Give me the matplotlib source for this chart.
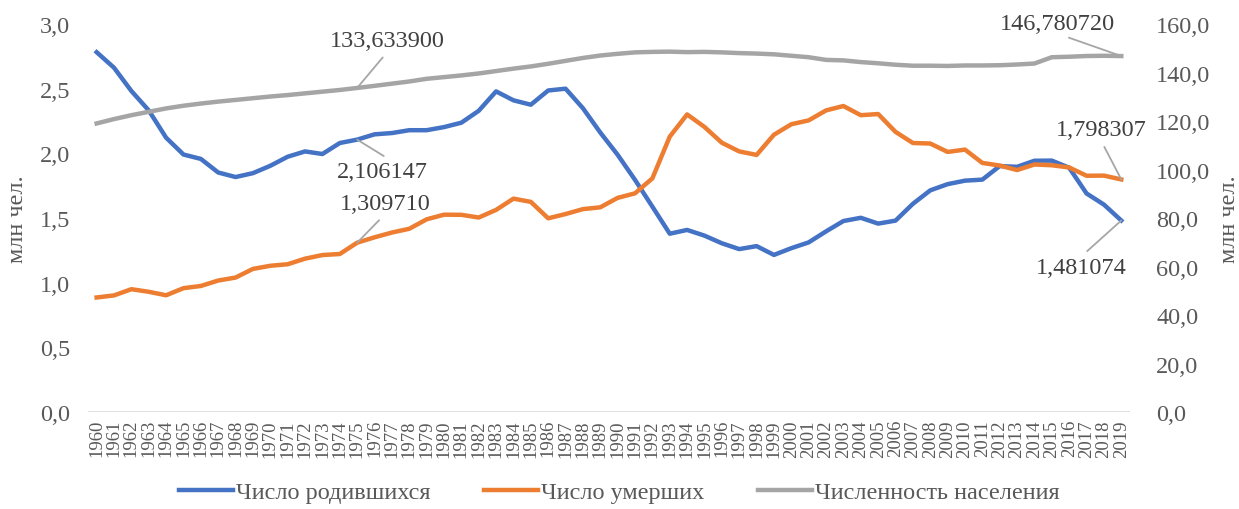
import matplotlib
matplotlib.use("Agg")
import matplotlib.pyplot as plt
from matplotlib.ticker import FuncFormatter, MultipleLocator

years = list(range(1960, 2020))

# число родившихся, млн чел.
births = [2.782, 2.662, 2.482, 2.332, 2.121, 1.991, 1.957, 1.852, 1.817, 1.847,
          1.904, 1.974, 2.015, 1.995, 2.080, 2.106147, 2.147, 2.157, 2.179, 2.179,
          2.203, 2.237, 2.329, 2.479, 2.410, 2.376, 2.486, 2.500, 2.349, 2.161,
          1.989, 1.795, 1.588, 1.379, 1.408, 1.364, 1.305, 1.260, 1.283, 1.215,
          1.267, 1.312, 1.397, 1.477, 1.502, 1.457, 1.480, 1.610, 1.714, 1.762,
          1.789, 1.797, 1.902, 1.896, 1.943, 1.944, 1.889, 1.690, 1.604, 1.481074]

# число умерших, млн чел.
deaths = [0.886, 0.902, 0.950, 0.930, 0.903, 0.958, 0.975, 1.017, 1.040, 1.107,
          1.131, 1.143, 1.186, 1.214, 1.222, 1.309710, 1.351, 1.388, 1.417, 1.490,
          1.526, 1.525, 1.504, 1.563, 1.650, 1.625, 1.498, 1.531, 1.569, 1.583,
          1.656, 1.691, 1.807, 2.129, 2.301, 2.204, 2.082, 2.015, 1.988, 2.144,
          2.225, 2.255, 2.332, 2.366, 2.295, 2.304, 2.166, 2.080, 2.076, 2.011,
          2.029, 1.926, 1.906, 1.871, 1.914, 1.908, 1.891, 1.827, 1.828, 1.798307]

# численность населения, млн чел.
population = [119.0, 120.8, 122.4, 123.8, 125.2, 126.3, 127.2, 128.0, 128.7, 129.4,
              130.1, 130.7, 131.4, 132.1, 132.8, 133.633900, 134.5, 135.4, 136.3, 137.4,
              138.1, 138.8, 139.6, 140.6, 141.6, 142.5, 143.6, 144.8, 146.0, 147.0,
              147.7, 148.3, 148.5, 148.6, 148.4, 148.5, 148.3, 148.0, 147.8, 147.5,
              146.9, 146.3, 145.2, 145.0, 144.3, 143.8, 143.2, 142.8, 142.8, 142.7,
              142.9, 142.9, 143.0, 143.3, 143.7, 146.3, 146.5, 146.8, 146.9, 146.780720]

labels = ["Число родившихся", "Число умерших", "Численность населения"]
colors = ["#4472C4", "#ED7D31", "#A5A5A5"]

plt.rcParams["font.family"] = ["Liberation Serif", "DejaVu Serif"]
txt_color = "#595959"

fig = plt.figure(figsize=(12.39, 5.10), dpi=100)
ax = fig.add_axes([0.071, 0.190, 0.841, 0.761])
ax2 = ax.twinx()

x = list(range(len(years)))
l1, = ax.plot(x, births, color=colors[0], lw=3.2, solid_joinstyle="round")
l2, = ax.plot(x, deaths, color=colors[1], lw=3.2, solid_joinstyle="round")
l3, = ax2.plot(x, population, color=colors[2], lw=3.2, solid_joinstyle="round")

ax.set_xlim(-0.5, len(years) - 0.5)
ax.set_ylim(0, 3.0)
ax2.set_ylim(0, 160)
ax.yaxis.set_major_locator(MultipleLocator(0.5))
ax2.yaxis.set_major_locator(MultipleLocator(20))
comma = FuncFormatter(lambda v, p: f"{v:.1f}".replace(".", ","))
ax.yaxis.set_major_formatter(comma)
ax2.yaxis.set_major_formatter(comma)

ax.set_xticks(x)
ax.set_xticklabels([str(y) for y in years], rotation=90, color=txt_color)

for a in (ax, ax2):
    for s in a.spines.values():
        s.set_visible(False)
    a.tick_params(length=0, labelsize=17.5, labelcolor=txt_color)
ax.tick_params(axis="x", pad=5, labelsize=13.5)
ax.tick_params(axis="y", pad=13)
ax2.tick_params(axis="y", pad=19)
ax.axhline(0, color="#D9D9D9", lw=1.2, zorder=0)

ax.set_ylabel("млн чел.", fontsize=17.5, color=txt_color, labelpad=8)
ax2.set_ylabel("млн чел.", fontsize=17.5, color=txt_color, labelpad=6)

# подписи значений с выносками
lead = dict(arrowstyle="-", color="#A6A6A6", lw=1.3, shrinkA=3, shrinkB=0)
fs = 17.5
i75 = years.index(1975)
i19 = years.index(2019)
ax2.annotate(f"{population[i75]:.6f}".replace(".", ","), xy=(i75, population[i75]),
             xytext=(16.76, 153.0), ha="center", va="center", fontsize=fs, color="#404040",
             arrowprops=dict(lead, relpos=(0.5, 0)))
ax.annotate(f"{births[i75]:.6f}".replace(".", ","), xy=(i75, births[i75]),
            xytext=(16.47, 1.86), ha="center", va="center", fontsize=fs, color="#404040",
            arrowprops=dict(lead, relpos=(0.6, 1)))
ax.annotate(f"{deaths[i75]:.6f}".replace(".", ","), xy=(i75, deaths[i75]),
            xytext=(16.59, 1.609), ha="center", va="center", fontsize=fs, color="#404040",
            arrowprops=dict(lead, relpos=(0.5, 0)))
ax2.annotate(f"{population[i19]:.6f}".replace(".", ","), xy=(i19, population[i19]),
             xytext=(55.3, 160.4), ha="center", va="center", fontsize=fs, color="#404040",
             arrowprops=dict(lead, relpos=(0.5, 0)), annotation_clip=False)
ax.annotate(f"{deaths[i19]:.6f}".replace(".", ","), xy=(i19, deaths[i19]),
            xytext=(57.83, 2.181), ha="center", va="center", fontsize=fs, color="#404040",
            arrowprops=dict(lead, relpos=(0.5, 0)))
ax.annotate(f"{births[i19]:.6f}".replace(".", ","), xy=(i19, births[i19]),
            xytext=(56.68, 1.12), ha="center", va="center", fontsize=fs, color="#404040",
            arrowprops=dict(lead, relpos=(0.5, 1)))

fig.legend([l1, l2, l3], labels, loc="lower center", bbox_to_anchor=(0.5, -0.032),
           ncol=3, frameon=False, fontsize=17.5, handlelength=2.2, columnspacing=2.2,
           handletextpad=0.15, labelcolor=txt_color)

fig.savefig("out.png", dpi=100)
